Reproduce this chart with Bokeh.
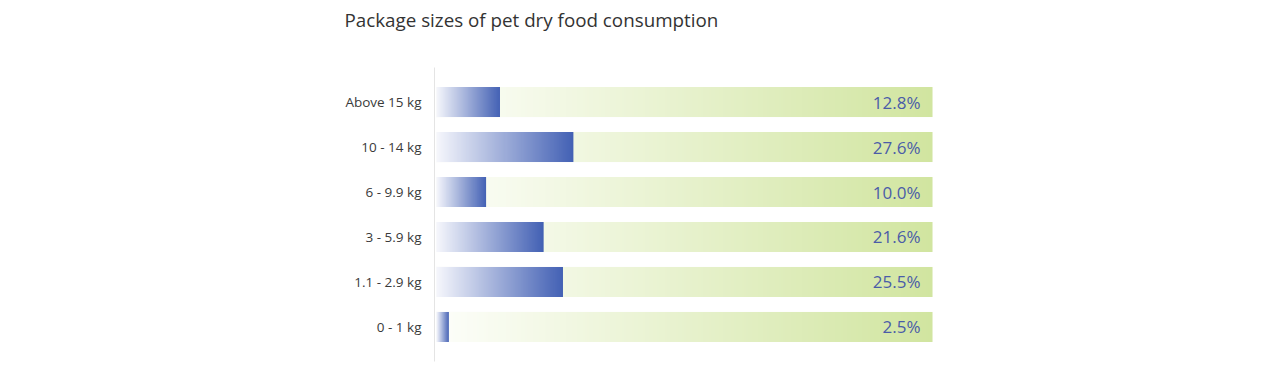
import numpy as np
from bokeh.plotting import figure
from bokeh.models import Range1d, FixedTicker, Title
from bokeh.core.properties import value
from bokeh.embed import file_html
from bokeh.resources import INLINE

categories = ["0 - 1 kg", "1.1 - 2.9 kg", "3 - 5.9 kg", "6 - 9.9 kg", "10 - 14 kg", "Above 15 kg"]
shares = [2.5, 25.5, 21.6, 10.0, 27.6, 12.8]
labels = ["2.5%", "25.5%", "21.6%", "10.0%", "27.6%", "12.8%"]
full = 100.0

BAR_H = 2 / 3
N = 256

def gradient(c0, c1, n=N):
    t = np.linspace(0, 1, n)
    c0 = np.array(c0, float); c1 = np.array(c1, float)
    rgb = (c0[None, :] * (1 - t[:, None]) + c1[None, :] * t[:, None]).round().astype(np.uint32)
    img = np.zeros((1, n), dtype=np.uint32)
    view = img.view(dtype=np.uint8).reshape((1, n, 4))
    view[0, :, 0] = rgb[:, 0]
    view[0, :, 1] = rgb[:, 1]
    view[0, :, 2] = rgb[:, 2]
    view[0, :, 3] = 255
    return img

green = gradient((253, 254, 250), (209, 229, 160))
blue = gradient((246, 247, 252), (66, 96, 180))

FRAME_H = 294
p = figure(width=1272, height=363, frame_width=500, frame_height=FRAME_H,
           min_border_left=434, min_border_right=338, min_border_top=67, min_border_bottom=2,
           x_range=Range1d(-0.4, 100.4), y_range=Range1d(-0.5 - 0.267, len(categories) - 0.5 + 0.267),
           output_backend="svg", toolbar_location=None, title=None)
p.outline_line_color = None
p.grid.visible = False
p.xaxis.visible = False
p.background_fill_color = "white"
p.border_fill_color = "white"

ys = list(range(len(categories)))
p.image_rgba(image=[green] * len(ys), x=[0] * len(ys), y=[y - BAR_H / 2 for y in ys],
             dw=[full] * len(ys), dh=[BAR_H] * len(ys))
p.image_rgba(image=[blue] * len(ys), x=[0] * len(ys), y=[y - BAR_H / 2 for y in ys],
             dw=shares, dh=[BAR_H] * len(ys))

p.text(x=[full] * len(ys), y=ys, text=labels, x_offset=-12, text_align="right",
       text_baseline="middle", text_font=value("Open Sans"), text_font_size="17px",
       text_color="#4a5ca8")

yax = p.yaxis[0]
yax.ticker = FixedTicker(ticks=ys)
yax.major_label_overrides = {i: c for i, c in enumerate(categories)}
yax.major_tick_line_color = None
yax.minor_tick_line_color = None
yax.axis_line_color = "#e4e4e4"
yax.major_label_text_font = "Open Sans"
yax.major_label_text_font_size = "13.5px"
yax.major_label_text_color = "#3a3a3a"
yax.major_label_standoff = 7

spacer = Title(text=" ", standoff=32, text_font_size="1px", text_color="white")
p.add_layout(spacer, "above")
title = Title(text="Package sizes of pet dry food consumption", align="left", offset=-90,
              standoff=0, text_font="Open Sans", text_font_size="18.8px",
              text_font_style="normal", text_color="#333333")
p.add_layout(title, "above")

open("out.html", "w").write(file_html(p, INLINE))
